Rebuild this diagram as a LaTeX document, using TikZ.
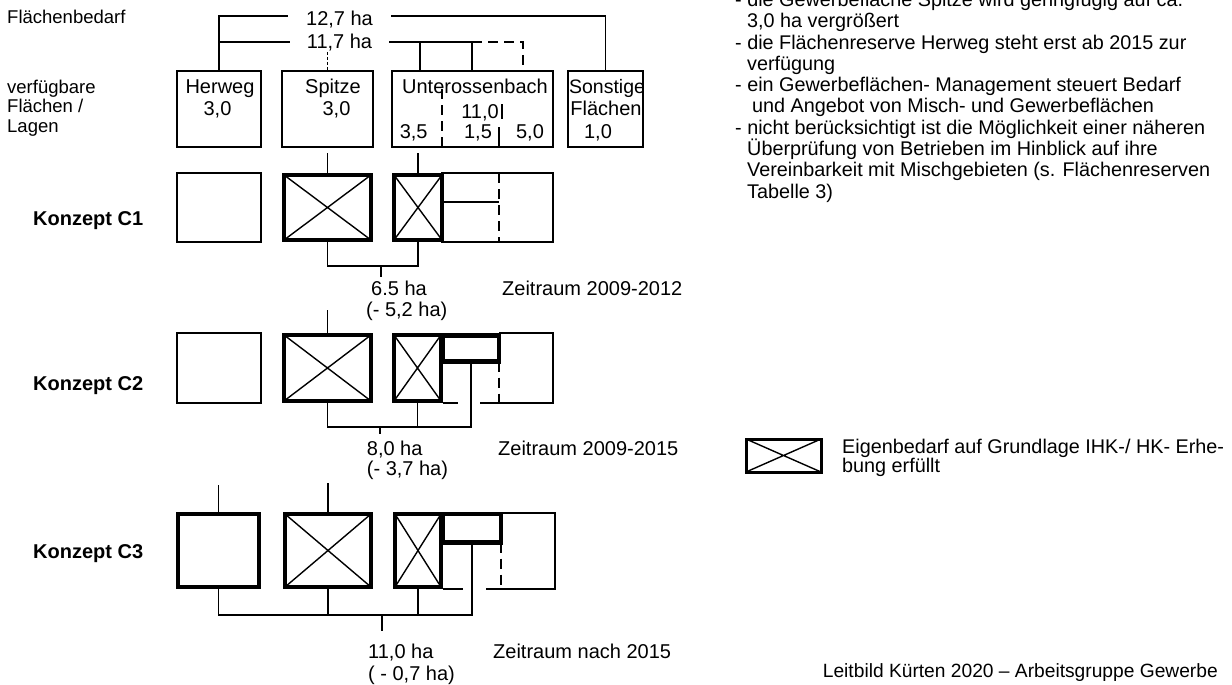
\documentclass[tikz,border=0pt]{standalone}
\usepackage{fontspec}
\setmainfont{Liberation Sans}
\begin{document}
\begin{tikzpicture}[x=1pt,y=-1pt,
  ln/.style={line width=1.8pt},
  tb/.style={draw, line width=1.8pt, inner sep=0pt, outer sep=0pt},
  kb/.style={draw, line width=4.5pt, inner sep=0pt, outer sep=0pt},
  xx/.style={path picture={\draw[line width=1.4pt] (path picture bounding box.north west) -- (path picture bounding box.south east) (path picture bounding box.south west) -- (path picture bounding box.north east);}},
  txt/.style={inner sep=0pt, font=\fontsize{20}{24}\selectfont},
  sm/.style={inner sep=0pt, anchor=base west, font=\fontsize{18.5}{20}\selectfont},
  rt/.style={inner sep=0pt, anchor=base west, font=\fontsize{19.8}{21}\selectfont},
  kz/.style={inner sep=0pt, anchor=base west, font=\fontsize{20}{24}\selectfont\bfseries},
  dsh/.style={dash pattern=on 10pt off 6pt}
]
\fill[white] (0,0) rectangle (1232,685);
\useasboundingbox (0,0) rectangle (1232,685);

% ---------- left labels
\node[sm] (lf) at (7,24) {Flächenbedarf};
\node[sm] (lv1) at (7,94) {verfügbare};
\node[sm] (lv2) at (7,113) {Flächen /};
\node[sm] (lv3) at (7,132) {Lagen};
\node[kz] (c1) at (33,225) {Konzept C1};
\node[kz] (c2) at (33,390) {Konzept C2};
\node[kz] (c3) at (33,558) {Konzept C3};

% ---------- top row
\node[tb, minimum width=84, minimum height=76] (hw) at (219,109) {};
\node[tb, minimum width=91, minimum height=76] (sp) at (327.5,109) {};
\node[tb, minimum width=161, minimum height=76] (uo) at (472.5,109) {};
\node[tb, minimum width=75, minimum height=76] (so) at (605.5,109) {};

\node[txt, anchor=base] (hwn) at (220,93) {Herweg};
\node[txt, anchor=base] (hwv) at (217.5,115) {3,0};
\node[txt, anchor=base] (spn) at (333,93) {Spitze};
\node[txt, anchor=base] (spv) at (336.5,115) {3,0};
\node[txt, anchor=base] (uon) at (475,93) {Unterossenbach};
\node[txt, anchor=base] (uov) at (480,118) {11,0};
\node[txt, anchor=base] (uoa) at (413.7,138) {3,5};
\node[txt, anchor=base] (uob) at (478,138) {1,5};
\node[txt, anchor=base] (uoc) at (530,138) {5,0};
\node[txt, anchor=base, font=\fontsize{19.5}{22}\selectfont] (son) at (607,93) {Sonstige};
\node[txt, anchor=base] (sof) at (606,115) {Flächen};
\node[txt, anchor=base] (sov) at (598,138) {1,0};

\coordinate (dv1) at (442,89);
\draw[ln, dsh] (dv1) -- (dv1 |- uo.south);
\coordinate (dp1) at (502,104); \coordinate (dp2) at (502,119);
\coordinate (dp3) at (499,127);
\draw[ln] (dp1) -- (dp2);
\draw[ln] (dp3) -- (dp3 |- uo.south);

% demand lines
\node[txt, anchor=base, inner xsep=18pt] (t127) at (339.5,26) {12,7 ha};
\node[txt, anchor=base, inner xsep=17pt] (t117) at (339.5,49) {11,7 ha};
\coordinate (r1) at (0,16);
\coordinate (r2) at (0,42);
\coordinate (u1) at (420,71);
\coordinate (u2) at (472,71);
\coordinate (u3) at (523,71);
\draw[ln] (hw.north) |- (t127.west |- r1);
\draw[ln] (t127.east |- r1) -| (so.north);
\draw[ln] (t117.west |- r2) -- (hw.north |- r2);
\draw[ln] (t117.east |- r2) -- (u2 |- r2);
\draw[ln, dsh] (u2 |- r2) -| (u3);
\draw[ln] (u1 |- r2) -- (u1);
\draw[ln] (u2 |- r2) -- (u2);
\draw[ln, densely dashed] (sp.north |- t117.south) -- (sp.north);

% ---------- Konzept C1
\node[tb, minimum width=84, minimum height=69] (hw1) at (219,207.5) {};
\node[kb, xx, minimum width=87, minimum height=65] (sp1) at (327.5,207.5) {};
\node[tb, minimum width=111, minimum height=69] (ub1) at (497.5,207.5) {};
\node[kb, xx, minimum width=48, minimum height=65] (ua1) at (418,207.5) {};
\coordinate (dt1) at (499,173);
\coordinate (db1) at (499,242);
\draw[ln, dsh] (dt1) -- (db1);
\coordinate (hm1) at (499,201.7);
\draw[ln] (ua1.east |- hm1) -- (hm1);

\coordinate (q0) at (0,153);
\draw[ln] (sp1.north |- q0) -- (sp1.north);
\draw[ln] (ua1.north |- q0) -- (ua1.north);

\coordinate (j1) at (0,266);
\draw[ln] (sp1.south) -- (sp1.south |- j1) -- (ua1.south |- j1) -- (ua1.south);
\coordinate (k1) at (381,266);
\coordinate (k1e) at (381,277);
\draw[ln] (k1) -- (k1e);

\node[txt, anchor=base west] (t65) at (371,295) {6.5 ha};
\node[txt, anchor=base west] (t52) at (366,316) {(- 5,2 ha)};
\node[txt, anchor=base west] (z1) at (502,295) {Zeitraum 2009-2012};

% ---------- Konzept C2
\coordinate (q2) at (0,310);
\node[tb, minimum width=84, minimum height=70] (hw2) at (219,368) {};
\node[kb, xx, minimum width=87, minimum height=66] (sp2) at (327.5,368) {};
\draw[ln] (sp2.north |- q2) -- (sp2.north);
\coordinate (e2a) at (499,333);
\coordinate (e2b) at (553,333);
\coordinate (e2c) at (553,403);
\coordinate (e2d) at (480,403);
\coordinate (e2e) at (443,403);
\coordinate (e2f) at (458,403);
\draw[ln] (e2a) -- (e2b) -- (e2c) -- (e2d);
\draw[ln] (e2e) -- (e2f);
\node[kb, xx, minimum width=47, minimum height=66] (ua2) at (417.5,368) {};
\node[kb, minimum width=56, minimum height=26] (uc2) at (471,348.5) {};
\coordinate (dv2) at (499,403);
\draw[ln, dsh] (uc2.south east) -- (dv2);
\coordinate (j2) at (0,427);
\draw[ln] (sp2.south) -- (sp2.south |- j2) -- (uc2.south |- j2) -- (uc2.south);
\draw[ln] (ua2.south) -- (ua2.south |- j2);
\coordinate (k2) at (380,427);
\coordinate (k2e) at (380,434);
\draw[ln] (k2) -- (k2e);

\node[txt, anchor=base west] (t80) at (366.7,455) {8,0 ha};
\node[txt, anchor=base west] (t37) at (366.7,475) {(- 3,7 ha)};
\node[txt, anchor=base west] (z2) at (498,455) {Zeitraum 2009-2015};

% ---------- Konzept C3
\coordinate (q3a) at (0,485);
\coordinate (q3b) at (0,483);
\node[kb, minimum width=81, minimum height=73] (hw3) at (218.5,550.5) {};
\node[kb, xx, minimum width=86, minimum height=73] (sp3) at (328,550.5) {};
\draw[ln] (hw3.north |- q3a) -- (hw3.north);
\draw[ln] (sp3.north |- q3b) -- (sp3.north);
\coordinate (e3a) at (501,513);
\coordinate (e3b) at (555,513);
\coordinate (e3c) at (555,589);
\coordinate (e3d) at (486,589);
\coordinate (e3e) at (443,589);
\coordinate (e3f) at (463,589);
\draw[ln] (e3a) -- (e3b) -- (e3c) -- (e3d);
\draw[ln] (e3e) -- (e3f);
\node[kb, xx, minimum width=46, minimum height=73] (ua3) at (418,550.5) {};
\node[kb, minimum width=58, minimum height=28.7] (uc3) at (472,528.3) {};
\coordinate (dv3) at (501,589);
\draw[ln, dsh] (uc3.south east) -- (dv3);
\coordinate (j3) at (0,615);
\draw[ln] (hw3.south) -- (hw3.south |- j3) -- (uc3.south |- j3) -- (uc3.south);
\draw[ln] (sp3.south) -- (sp3.south |- j3);
\draw[ln] (ua3.south) -- (ua3.south |- j3);
\coordinate (k3) at (382,615);
\coordinate (k3e) at (382,631);
\draw[ln] (k3) -- (k3e);

\node[txt, anchor=base west] (t110) at (368,658) {11,0 ha};
\node[txt, anchor=base west] (t07) at (368,680) {( - 0,7 ha)};
\node[txt, anchor=base west] (z3) at (493,658) {Zeitraum nach 2015};

% ---------- right text
\node[rt] (rr0) at (735,6.75) {- die Gewerbefläche Spitze wird geringfügig auf ca.};
\node[rt] (rr1) at (747,28) {3,0 ha vergrößert};
\node[rt] (rr2) at (735,49.25) {- die Flächenreserve Herweg steht erst ab 2015 zur};
\node[rt] (rr3) at (747,70.5) {verfügung};
\node[rt] (rr4) at (735,91.75) {- ein Gewerbeflächen- Management steuert Bedarf};
\node[rt] (rr5) at (752,113) {und Angebot von Misch- und Gewerbeflächen};
\node[rt] (rr6) at (735,134.25) {- nicht berücksichtigt ist die Möglichkeit einer näheren};
\node[rt] (rr7) at (747,155.5) {Überprüfung von Betrieben im Hinblick auf ihre};
\node[rt] (rr8) at (747,176.75) {Vereinbarkeit mit Mischgebieten (s. Flächenreserven};
\node[rt] (rr9) at (747,198) {Tabelle 3)};

% ---------- legend
\node[draw, line width=3pt, inner sep=0pt, outer sep=0pt, xx, minimum width=75, minimum height=33] (lg) at (783.5,455.5) {};
\node[rt, font=\fontsize{19.8}{21}\selectfont] (lgt1) at (842,453) {Eigenbedarf auf Grundlage IHK-/ HK- Erhe-};
\node[rt, font=\fontsize{19.8}{21}\selectfont] (lgt2) at (842,472) {bung erfüllt};

% ---------- footer
\node[rt, anchor=base east, font=\fontsize{19.2}{22}\selectfont] (ft) at (1218,677) {Leitbild Kürten 2020 – Arbeitsgruppe Gewerbe};
\end{tikzpicture}
\end{document}
